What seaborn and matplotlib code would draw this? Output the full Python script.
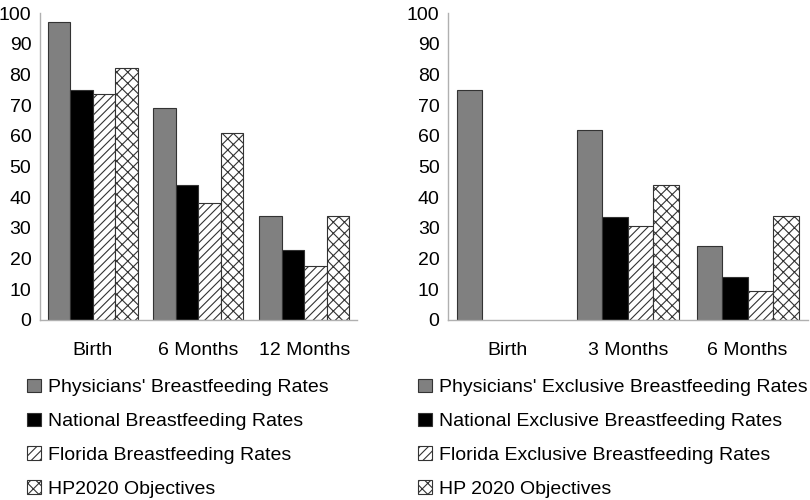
import numpy as np
import pandas as pd
from matplotlib import pyplot as plt
from matplotlib.patches import Patch
import seaborn as sns

# left panel: any breastfeeding
any_ages = ['Birth', '6 Months', '12 Months']
any_series = ["Physicians' Breastfeeding Rates", 'National Breastfeeding Rates',
              'Florida Breastfeeding Rates', 'HP2020 Objectives']
any_phys = [97, 69, 34]
any_nat = [75, 44, 22.8]
any_fl = [73.5, 38, 17.5]
any_hp = [82, 61, 34]

# right panel: exclusive breastfeeding (only physicians reported at birth)
exc_ages = ['Birth', '3 Months', '6 Months']
exc_series = ["Physicians' Exclusive Breastfeeding Rates", 'National Exclusive Breastfeeding Rates',
              'Florida Exclusive Breastfeeding Rates', 'HP 2020 Objectives']
exc_phys = [75, 62, 24]
exc_nat = [np.nan, 33.5, 14]
exc_fl = [np.nan, 30.5, 9.5]
exc_hp = [np.nan, 44, 34]

colors = ['#808080', '#000000', '#ffffff', '#ffffff']
hatches = ['', '', '////', 'xxx']

plt.rcParams['font.family'] = ['Liberation Sans', 'DejaVu Sans']
plt.rcParams['hatch.linewidth'] = 0.8


def long_form(ages, series, values):
    rows = []
    for s, vals in zip(series, values):
        for a, v in zip(ages, vals):
            rows.append({'age': a, 'series': s, 'rate': v})
    return pd.DataFrame(rows)


def draw(ax, df, ages, series):
    sns.barplot(data=df, x='age', y='rate', hue='series', order=ages, hue_order=series,
                palette=colors, width=0.85, edgecolor='#333333', linewidth=0.8,
                saturation=1, ax=ax, legend=False)
    for cont, h in zip(ax.containers, hatches):
        for bar in cont:
            bar.set_hatch(h)
    ax.set_ylim(0, 100)
    ax.set_yticks(range(0, 101, 10))
    ax.set_xlim(-0.5, 2.5)
    ax.set_xlabel('')
    ax.set_ylabel('')
    ax.tick_params(axis='y', length=0, labelsize=14, pad=6)
    ax.tick_params(axis='x', length=0, labelsize=14, pad=16)
    for side in ['top', 'right']:
        ax.spines[side].set_visible(False)
    for side in ['left', 'bottom']:
        ax.spines[side].set_color('#b0b0b0')
        ax.spines[side].set_linewidth(1)


fig = plt.figure(figsize=(8.1, 5), dpi=100)
ax1 = fig.add_axes([0.049, 0.36, 0.392, 0.614])
ax2 = fig.add_axes([0.553, 0.36, 0.444, 0.614])

draw(ax1, long_form(any_ages, any_series, [any_phys, any_nat, any_fl, any_hp]), any_ages, any_series)
draw(ax2, long_form(exc_ages, exc_series, [exc_phys, exc_nat, exc_fl, exc_hp]), exc_ages, exc_series)

for series, x0 in [(any_series, 0.024), (exc_series, 0.507)]:
    handles = [Patch(facecolor=c, edgecolor='#333333', hatch=h, linewidth=0.8)
               for c, h in zip(colors, hatches)]
    fig.legend(handles, series, loc='upper left', bbox_to_anchor=(x0, 0.258),
               frameon=False, fontsize=14, handlelength=0.7, handleheight=0.7,
               handletextpad=0.35, labelspacing=0.83, borderaxespad=0)

fig.savefig('out.png', dpi=100)
